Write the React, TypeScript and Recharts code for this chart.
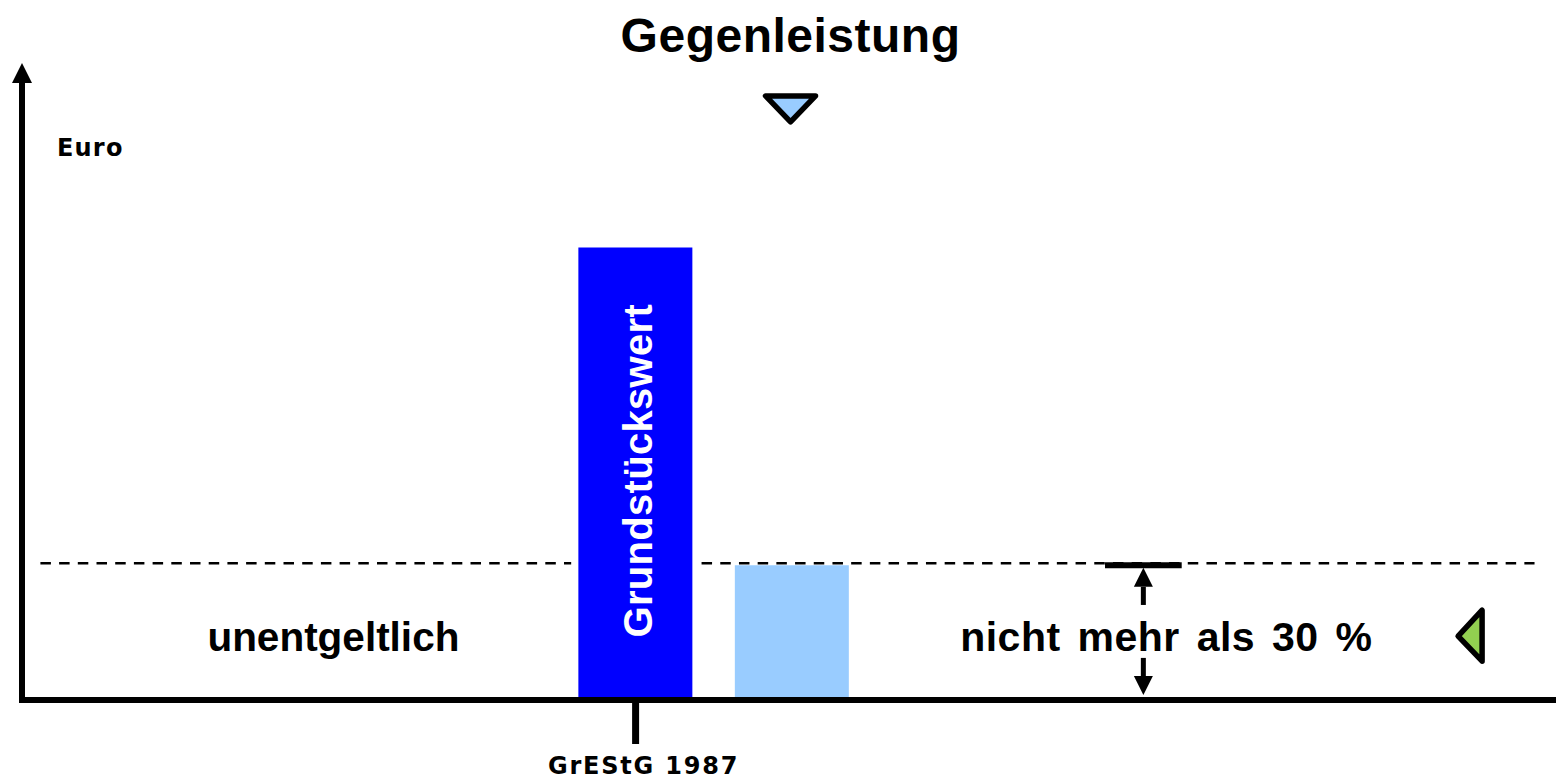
import React from "react";
import {
  ComposedChart,
  Bar,
  Cell,
  LabelList,
  XAxis,
  YAxis,
  ReferenceLine,
  ReferenceDot,
} from "recharts";

// bars: position on the x axis and height (Grundstückswert = 100)
const barNames = ["Grundstückswert", "Gegenleistung"];
const barPositions = [4.0, 5.02];
const barValues = [100, 29.8];
const barColors = ["#0000FF", "#99CCFF"];

// axes
const xDomain = [0, 10];
const yDomain = [0, 137];
const xTicks = [4];
const xTickLabels = ["GrEStG 1987"];

// 30 % limit line (split around the Grundstückswert bar)
const limitValue = 30.2;
const limitSegments = [
  [0.12, 3.58],
  [4.43, 9.86],
];
const capSegment = [7.06, 7.56];
const capValue = 29.8;
const arrowX = 7.31;
const arrowUp = [21.0, 29.2];
const arrowDown = [9.3, 1.1];

// markers
const topMarker = { x: 5.01, y: 131.5 };
const sideMarker = { x: 9.44, y: 14.1 };

// text annotations
const title = { text: "Gegenleistung", x: 5.01, y: 143.2 };
const unitLabel = { text: "Euro", x: 0.228, y: 120.2 };
const zoneLabels = [
  { text: "unentgeltlich", x: 2.03, y: 10.8 },
  { text: "nicht mehr als 30 %", x: 7.46, y: 10.8 },
];

const ARIAL = '"Liberation Sans", Arial, sans-serif';
const DEJAVU = '"DejaVu Sans", Verdana, sans-serif';

const data = barNames.map((name, i) => ({
  name,
  pos: barPositions[i],
  value: barValues[i],
}));

const ArrowShape = (props: any) => {
  const x1 = Number(props.x1);
  const y1 = Number(props.y1);
  const x2 = Number(props.x2);
  const y2 = Number(props.y2);
  const dir = Math.sign(y2 - y1);
  const base = y2 - dir * 19;
  return (
    <g>
      <line x1={x1} y1={y1} x2={x2} y2={base} stroke="#000" strokeWidth={5} />
      <polygon
        points={`${x2 - 9.5},${base} ${x2 + 9.5},${base} ${x2},${y2}`}
        fill="#000"
      />
    </g>
  );
};

const textShape =
  (
    text: string,
    size: number,
    family: string,
    anchor: "start" | "middle" = "middle",
    letterSpacing = 0,
    wordSpacing = 0
  ) =>
  (props: any) =>
    (
      <text
        x={props.cx}
        y={props.cy}
        textAnchor={anchor}
        fontFamily={family}
        fontWeight="bold"
        fontSize={size}
        letterSpacing={letterSpacing}
        wordSpacing={wordSpacing}
        fill="#000"
      >
        {text}
      </text>
    );

const DownTriangle = (props: any) => {
  const { cx, cy } = props;
  return (
    <polygon
      points={`${cx - 25},${cy - 9} ${cx + 25},${cy - 9} ${cx},${cy + 17}`}
      fill="#99CCFF"
      stroke="#000"
      strokeWidth={5.5}
      strokeLinejoin="round"
    />
  );
};

const LeftTriangle = (props: any) => {
  const { cx, cy } = props;
  return (
    <polygon
      points={`${cx - 12},${cy} ${cx + 12},${cy - 26} ${cx + 12},${cy + 25}`}
      fill="#92D050"
      stroke="#000"
      strokeWidth={5.5}
      strokeLinejoin="round"
    />
  );
};

const renderTick = (props: any) => {
  const { x, y, payload } = props;
  const idx = xTicks.indexOf(payload.value);
  return (
    <text
      x={x + 8}
      y={y + 30}
      textAnchor="middle"
      fontFamily={DEJAVU}
      fontWeight="bold"
      fontSize={24}
      letterSpacing={1.8}
      fill="#000"
    >
      {xTickLabels[idx]}
    </text>
  );
};

const renderBarLabel = (props: any) => {
  const { x, y, width, height, index } = props;
  if (index !== 0) return null;
  const cx = x + width / 2;
  const cy = y + height / 2;
  return (
    <text
      x={cx + 3}
      y={cy + 17}
      transform={`rotate(-90 ${cx} ${cy})`}
      textAnchor="middle"
      fontFamily={ARIAL}
      fontWeight="bold"
      fontSize={40}
      letterSpacing={0.3}
      fill="#fff"
    >
      {barNames[0]}
    </text>
  );
};

export default function App() {
  return (
    <div style={{ position: "absolute", left: 0, top: 0, background: "#fff" }}>
      <svg width={0} height={0} style={{ position: "absolute" }}>
        <defs>
          <marker
            id="yArrow"
            markerUnits="userSpaceOnUse"
            markerWidth={20}
            markerHeight={20}
            refX={3}
            refY={10}
            orient="auto-start-reverse"
          >
            <path d="M0,0 L20,10 L0,20 Z" fill="#000" />
          </marker>
        </defs>
      </svg>
      <ComposedChart
        width={1556}
        height={781}
        data={data}
        margin={{ top: 80, right: 0, bottom: 0, left: 0 }}
      >
        <XAxis
          type="number"
          dataKey="pos"
          domain={xDomain}
          allowDataOverflow
          ticks={xTicks}
          height={81}
          tickSize={44}
          tickMargin={0}
          tickLine={{ stroke: "#000", strokeWidth: 7 }}
          axisLine={{ stroke: "#000", strokeWidth: 6, strokeLinecap: "square" }}
          tick={renderTick}
        />
        <YAxis
          type="number"
          domain={yDomain}
          allowDataOverflow
          width={22}
          tick={false}
          tickLine={false}
          axisLine={{
            stroke: "#000",
            strokeWidth: 6,
            strokeLinecap: "square",
            markerStart: "url(#yArrow)",
          }}
        />
        {limitSegments.map((s, i) => (
          <ReferenceLine
            key={i}
            segment={[
              { x: s[0], y: limitValue },
              { x: s[1], y: limitValue },
            ]}
            stroke="#000"
            strokeWidth={2.5}
            strokeDasharray="10.5 8.2"
          />
        ))}
        <Bar dataKey="value" barSize={114} isAnimationActive={false}>
          {data.map((d, i) => (
            <Cell key={d.name} fill={barColors[i]} />
          ))}
          <LabelList dataKey="value" content={renderBarLabel} />
        </Bar>
        <ReferenceLine
          segment={[
            { x: capSegment[0], y: capValue },
            { x: capSegment[1], y: capValue },
          ]}
          stroke="#000"
          strokeWidth={6}
        />
        <ReferenceLine
          segment={[
            { x: arrowX, y: arrowUp[0] },
            { x: arrowX, y: arrowUp[1] },
          ]}
          shape={ArrowShape}
        />
        <ReferenceLine
          segment={[
            { x: arrowX, y: arrowDown[0] },
            { x: arrowX, y: arrowDown[1] },
          ]}
          shape={ArrowShape}
        />
        <ReferenceDot x={topMarker.x} y={topMarker.y} shape={DownTriangle} />
        <ReferenceDot x={sideMarker.x} y={sideMarker.y} shape={LeftTriangle} />
        <ReferenceDot
          x={zoneLabels[0].x}
          y={zoneLabels[0].y}
          shape={textShape(zoneLabels[0].text, 40.5, ARIAL)}
        />
        <ReferenceDot
          x={zoneLabels[1].x}
          y={zoneLabels[1].y}
          shape={textShape(zoneLabels[1].text, 41, ARIAL, "middle", 0.5, 5)}
        />
        <ReferenceDot
          x={unitLabel.x}
          y={unitLabel.y}
          shape={textShape(unitLabel.text, 24, DEJAVU, "start", 1.2)}
        />
        <ReferenceDot
          x={title.x}
          y={title.y}
          ifOverflow="visible"
          shape={textShape(title.text, 48, ARIAL, "middle", 0.5)}
        />
      </ComposedChart>
    </div>
  );
}
